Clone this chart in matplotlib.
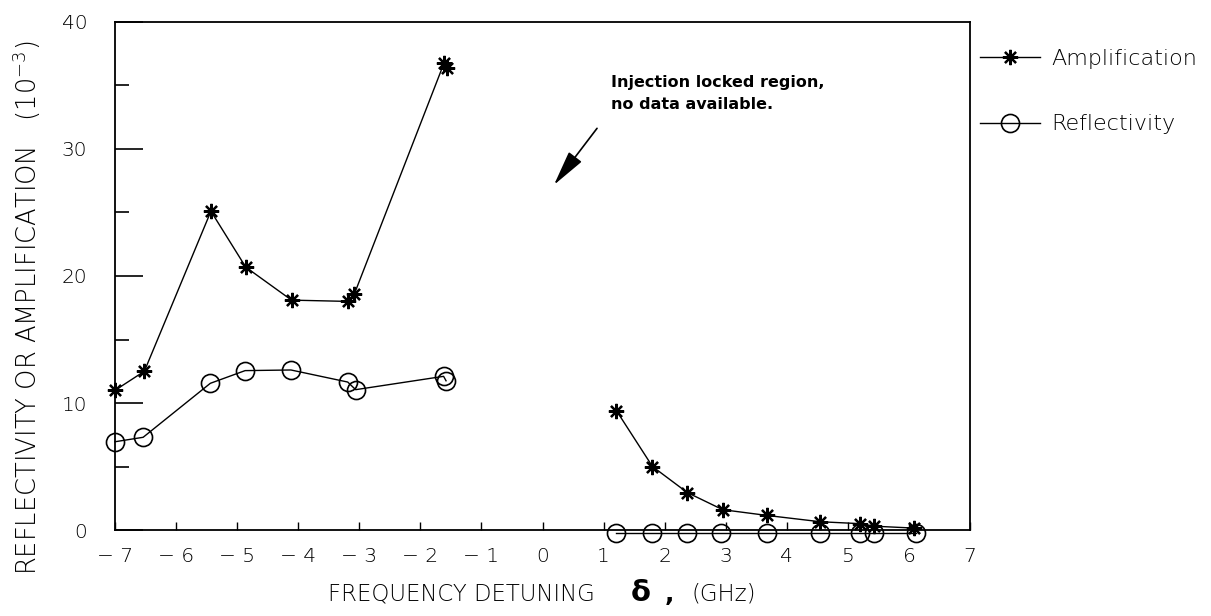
import matplotlib
matplotlib.use("Agg")
import matplotlib.pyplot as plt
from matplotlib.ticker import MultipleLocator

plt.rcParams["font.family"] = ["DejaVu Sans"]
plt.rcParams["font.weight"] = "light"

# Amplification, below and above the injection locked region (units of 1e-3)
amp_left_x = [-7.0, -6.52, -5.43, -4.86, -4.11, -3.19, -3.08, -1.61, -1.56]
amp_left_y = [11.0, 12.5, 25.1, 20.7, 18.1, 18.0, 18.6, 36.8, 36.35]
amp_right_x = [1.21, 1.80, 2.37, 2.95, 3.67, 4.55, 5.20, 5.43, 6.09]
amp_right_y = [9.4, 5.0, 2.95, 1.6, 1.15, 0.65, 0.5, 0.3, 0.15]

# Reflectivity
ref_left_x = [-7.0, -6.54, -5.44, -4.87, -4.12, -3.19, -3.06, -1.62, -1.58]
ref_left_y = [6.95, 7.3, 11.55, 12.55, 12.6, 11.65, 11.05, 12.1, 11.75]
ref_right_x = [1.21, 1.80, 2.37, 2.92, 3.67, 4.55, 5.20, 5.43, 6.11]
ref_right_y = [-0.2, -0.2, -0.2, -0.2, -0.2, -0.2, -0.2, -0.2, -0.2]

x_ticks = [-7, -6, -5, -4, -3, -2, -1, 0, 1, 2, 3, 4, 5, 6, 7]
x_tick_labels = ["\u2212 7", "\u2212 6", "\u2212 5", "\u2212 4", "\u2212 3",
                 "\u2212 2", "\u2212 1", "0", "1", "2", "3", "4", "5", "6", "7"]
y_ticks = [0, 10, 20, 30, 40]
y_tick_labels = ["0", "10", "20", "30", "40"]

fig = plt.figure(figsize=(12.11, 6.16), dpi=100)
ax = fig.add_axes([0.095, 0.1396, 0.706, 0.8247])

star = (8, 2, 0)
line_kw = dict(color="black", linewidth=1.0, clip_on=False)
star_kw = dict(marker=star, markersize=11, markeredgewidth=1.6)
circ_kw = dict(marker="o", markersize=13, markerfacecolor="none",
               markeredgewidth=1.2)
amp1, = ax.plot(amp_left_x, amp_left_y, label="Amplification",
                **star_kw, **line_kw)
ax.plot(amp_right_x, amp_right_y, **star_kw, **line_kw)
ref1, = ax.plot(ref_left_x, ref_left_y, label="Reflectivity",
                **circ_kw, **line_kw)
ax.plot(ref_right_x, ref_right_y, **circ_kw, **line_kw)

ax.set_xlim(-7, 7)
ax.set_ylim(0, 40)
ax.set_xticks(x_ticks)
ax.set_xticklabels(x_tick_labels)
ax.set_yticks(y_ticks)
ax.set_yticklabels(y_tick_labels)
ax.yaxis.set_minor_locator(MultipleLocator(5))
ax.tick_params(axis="x", which="major", direction="in", length=6, width=1,
               labelsize=14.5, pad=12, labelcolor="black")
ax.tick_params(axis="y", which="major", direction="in", length=20, width=1.2,
               labelsize=14.5, pad=20)
ax.tick_params(axis="y", which="minor", direction="in", length=10, width=1.2)
for side in ["top", "bottom", "left", "right"]:
    ax.spines[side].set_linewidth(1.3)

# Axis titles, with a large bold delta in the x title
fig.text(0.4915, 0.025, "FREQUENCY DETUNING", ha="right", va="baseline",
         fontsize=16.5)
fig.text(0.529, 0.025, r"$\mathbf{\delta}$", ha="center", va="baseline",
         fontsize=21)
fig.text(0.5525, 0.025, ",", ha="center", va="baseline", fontsize=18,
         fontweight="bold")
fig.text(0.571, 0.025, "(GHz)", ha="left", va="baseline", fontsize=16.5)
fig.text(0.022, 0.50, r"REFLECTIVITY OR AMPLIFICATION   (10$^{-3}$)",
         rotation=90, ha="center", va="center", fontsize=18.5)

ax.annotate("", xy=(0.16, 27.0), xytext=(0.92, 31.8),
            arrowprops=dict(arrowstyle="-|>,head_length=2.2,head_width=0.5",
                            color="black", lw=1.2))
ax.text(1.12, 35.8, "Injection locked region,\nno data available.",
        fontsize=11.5, fontweight="heavy", ha="left", va="top",
        linespacing=1.55)

ax.legend(handles=[amp1, ref1], loc="upper left", bbox_to_anchor=(1.012, 0.947),
          frameon=False, fontsize=16, handlelength=2.7, handletextpad=0.5,
          labelspacing=2.05, borderpad=0, borderaxespad=0)

fig.savefig("out.png", dpi=100)
